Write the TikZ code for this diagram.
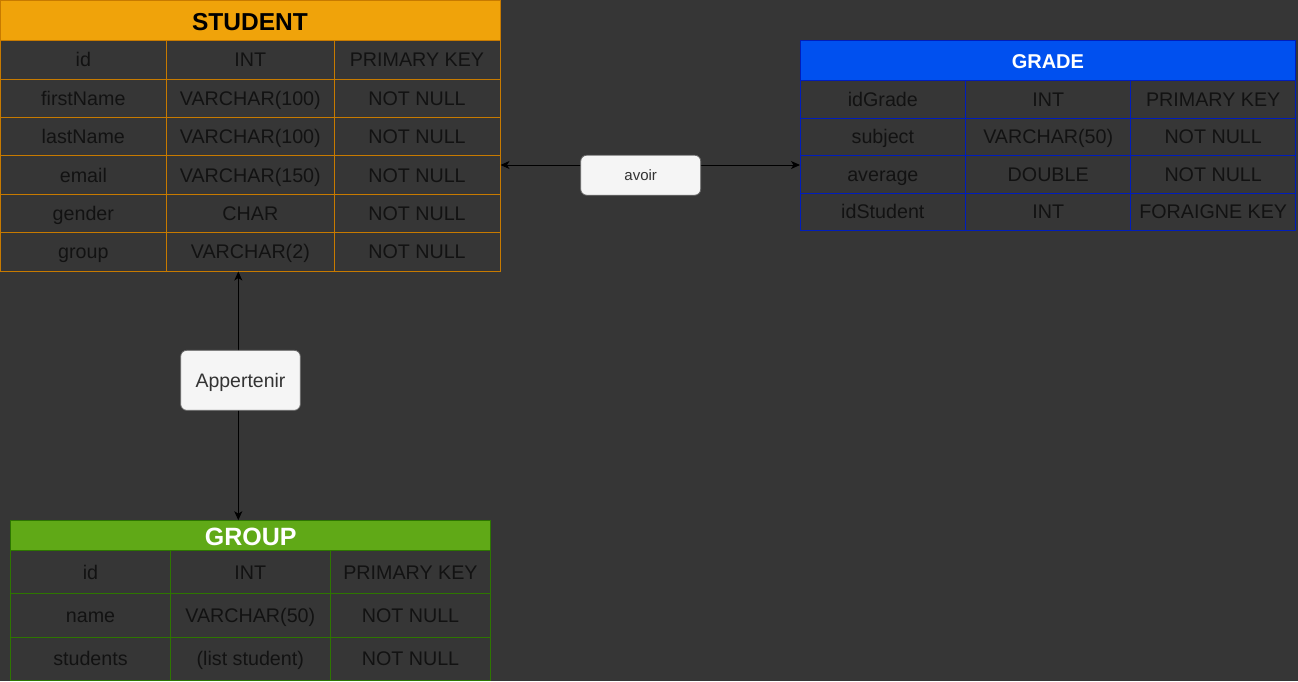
\documentclass[tikz,border=0pt]{standalone}
\usepackage{fontspec}
\setmainfont{Liberation Sans}
\usetikzlibrary{arrows.meta}
\definecolor{bg}{HTML}{363636}
\definecolor{studfill}{HTML}{F0A30A}
\definecolor{studline}{HTML}{C77A00}
\definecolor{gradefill}{HTML}{0050EF}
\definecolor{gradeline}{HTML}{001DBC}
\definecolor{groupfill}{HTML}{60A917}
\definecolor{groupline}{HTML}{2D7600}
\definecolor{celltext}{HTML}{121212}
\definecolor{lblfill}{HTML}{F5F5F5}
\definecolor{lblline}{HTML}{666666}
\definecolor{lbltext}{HTML}{333333}
\tikzset{
  cell/.style={draw, line width=1pt, inner sep=0pt, outer sep=0pt, anchor=north west,
    text=celltext, font=\fontsize{19.7}{22}\selectfont, text height=17pt, text depth=3pt},
  hdr/.style={draw, line width=1pt, inner sep=0pt, outer sep=0pt, anchor=north west},
  lbl/.style={draw=lblline, fill=lblfill, rounded corners=6pt, line width=0.8pt,
    inner sep=0pt, text=lbltext},
  conn/.style={{Stealth[length=9pt,width=8pt,inset=2.5pt]}-{Stealth[length=9pt,width=8pt,inset=2.5pt]}, line width=1pt, draw=black}
}
\begin{document}
\begin{tikzpicture}[x=1pt,y=-1pt]
\fill[bg] (0,0) rectangle (1298,681);
\useasboundingbox (0,0) rectangle (1298,681);

% STUDENT
\node[hdr, fill=studfill, draw=studline, text=black, minimum width=500pt, minimum height=40.7pt,
  font=\bfseries\fontsize{24.5}{28}\selectfont, text height=20pt, text depth=0pt] (student) at (0,0) {STUDENT};
\foreach \a/\b/\c [count=\i] in {id/INT/PRIMARY KEY, firstName/VARCHAR(100)/NOT NULL,
  lastName/VARCHAR(100)/NOT NULL, email/VARCHAR(150)/NOT NULL, gender/CHAR/NOT NULL,
  group/VARCHAR(2)/NOT NULL}
{
  \pgfmathsetmacro\yy{40.7+(\i-1)*38.4}
  \node[cell, draw=studline, minimum width=166.7pt, minimum height=38.4pt] (s\i a) at (0,\yy) {\a};
  \node[cell, draw=studline, minimum width=167.3pt, minimum height=38.4pt] (s\i b) at (166.7,\yy) {\b};
  \node[cell, draw=studline, minimum width=166pt, minimum height=38.4pt] (s\i c) at (334,\yy) {\c};
}

% GRADE
\node[hdr, fill=gradefill, draw=gradeline, text=white, minimum width=495.7pt, minimum height=40pt,
  font=\bfseries\fontsize{20}{24}\selectfont, text height=16pt, text depth=0pt] (grade) at (800,40.7) {GRADE};
\foreach \a/\b/\c [count=\i] in {idGrade/INT/PRIMARY KEY, subject/VARCHAR(50)/NOT NULL,
  average/DOUBLE/NOT NULL, idStudent/INT/FORAIGNE KEY}
{
  \pgfmathsetmacro\yy{80.7+(\i-1)*37.45}
  \node[cell, draw=gradeline, minimum width=165.7pt, minimum height=37.45pt] (g\i a) at (800,\yy) {\a};
  \node[cell, draw=gradeline, minimum width=165pt, minimum height=37.45pt] (g\i b) at (965.7,\yy) {\b};
  \node[cell, draw=gradeline, minimum width=165pt, minimum height=37.45pt] (g\i c) at (1130.7,\yy) {\c};
}

% GROUP
\node[hdr, fill=groupfill, draw=groupline, text=white, minimum width=480pt, minimum height=30pt,
  font=\bfseries\fontsize{25}{28}\selectfont, text height=20pt, text depth=0pt] (group) at (10.7,520.7) {GROUP};
\foreach \a/\b/\c [count=\i] in {id/INT/PRIMARY KEY, name/VARCHAR(50)/NOT NULL,
  students/(list student)/NOT NULL}
{
  \pgfmathsetmacro\yy{550.7+(\i-1)*43.2}
  \node[cell, draw=groupline, minimum width=159.6pt, minimum height=43.2pt] (p\i a) at (10.7,\yy) {\a};
  \node[cell, draw=groupline, minimum width=160pt, minimum height=43.2pt] (p\i b) at (170.3,\yy) {\b};
  \node[cell, draw=groupline, minimum width=160.4pt, minimum height=43.2pt] (p\i c) at (330.3,\yy) {\c};
}

% connectors
\coordinate (sE) at (500.5,165);
\coordinate (gW) at (800,165);
\coordinate (sS) at (238.3,271.5);
\coordinate (gN) at (238.3,520.2);
\draw[conn] (sE) -- (gW);
\draw[conn] (sS) -- (gN);

% labels
\node[lbl, minimum width=120pt, minimum height=40pt, font=\fontsize{15}{18}\selectfont] (avoir) at (640.7,175.2) {avoir};
\node[lbl, minimum width=119.6pt, minimum height=60pt, font=\fontsize{19.5}{22}\selectfont,
  text height=15pt, text depth=0pt] (app) at (240.5,380.3) {Appertenir};
\end{tikzpicture}
\end{document}
